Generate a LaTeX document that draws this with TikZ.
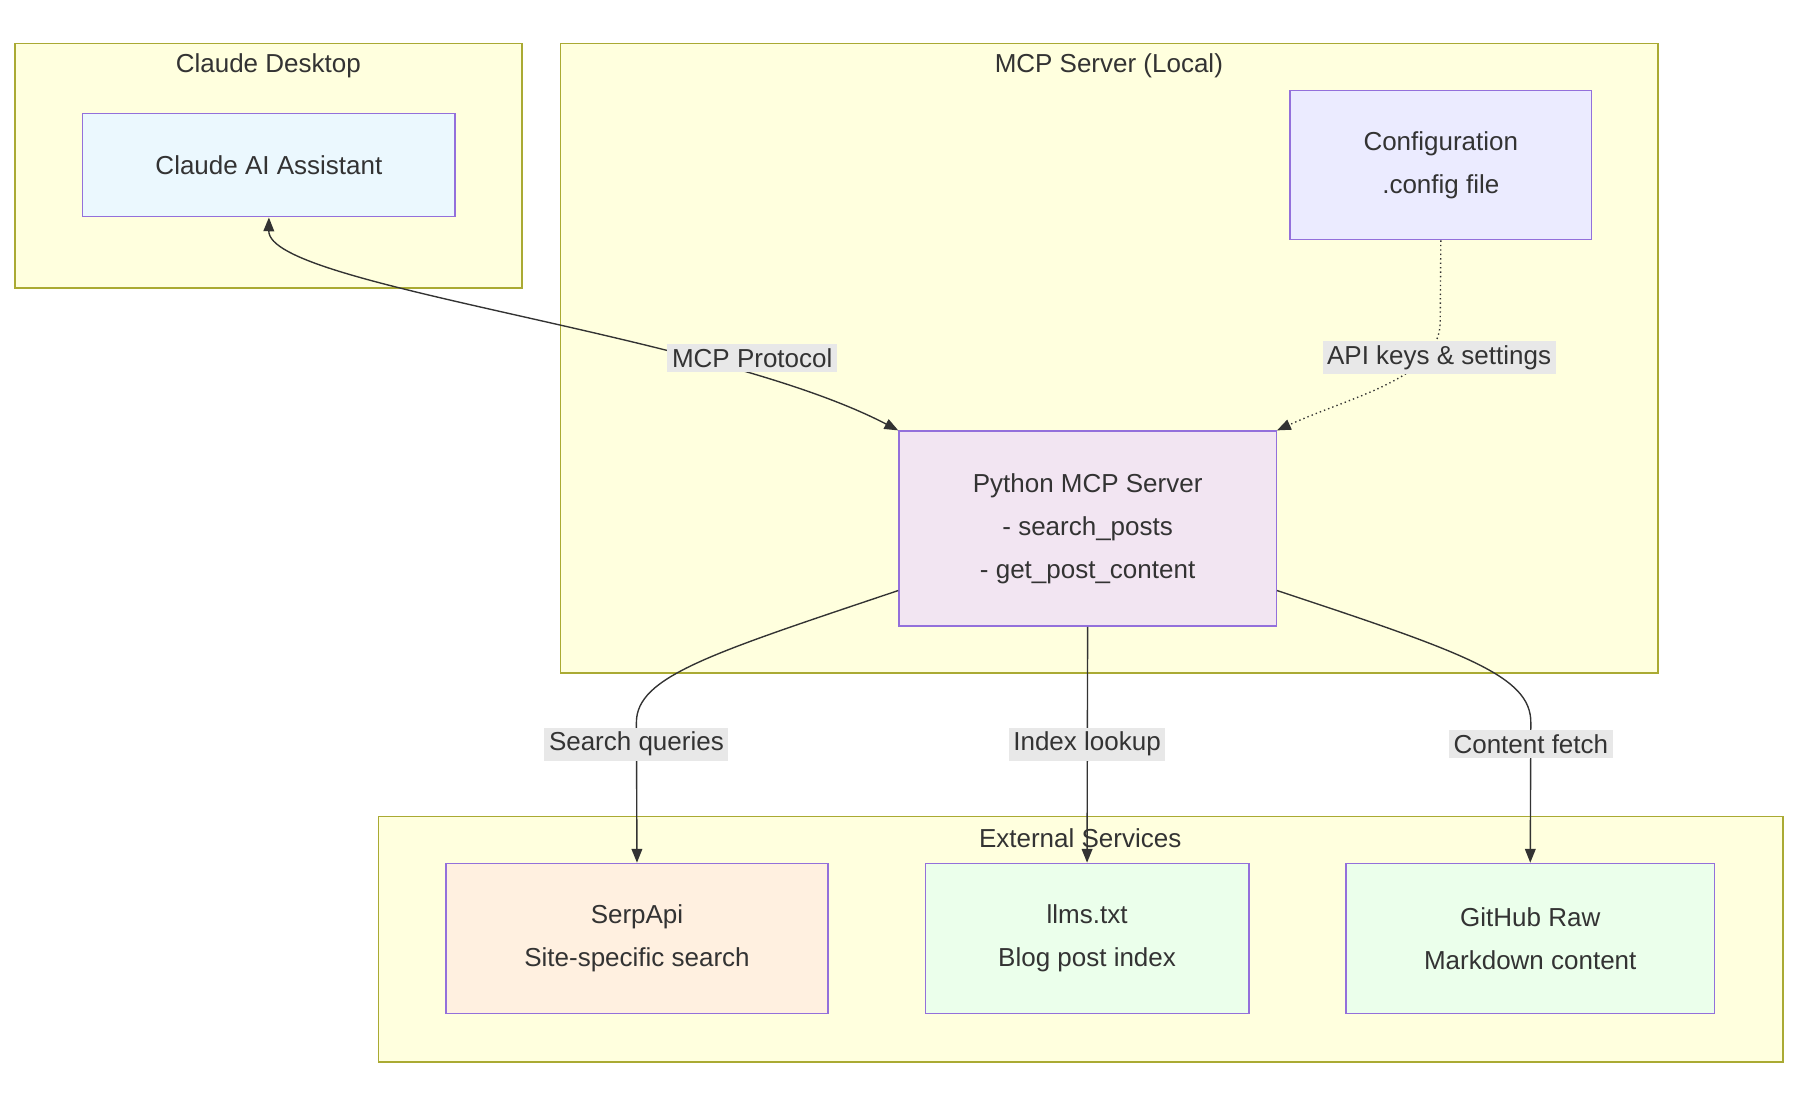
\documentclass[tikz,border=0pt]{standalone}
\usepackage{fontspec}
\setmainfont{Liberation Sans}
\usetikzlibrary{positioning,arrows.meta}
\definecolor{clusterfill}{HTML}{FFFFDE}
\definecolor{clusterline}{HTML}{AAAA33}
\definecolor{nodeline}{HTML}{9370DB}
\definecolor{labelfill}{HTML}{E8E8E8}
\definecolor{edgeline}{HTML}{333333}
\begin{document}
\begin{tikzpicture}[
  x=0.75pt, y=-0.75pt,
  font=\fontsize{17}{20}\selectfont, text=edgeline,
  % Subgraph frames
  cluster/.style={draw=clusterline, fill=clusterfill, line width=1pt},
  title/.style={anchor=center},
  % Service boxes
  box/.style={rectangle, draw=nodeline, line width=1pt, align=center,
    inner sep=0pt},
  % Edge labels on grey patches
  tag/.style={fill=labelfill, inner sep=3pt},
  link/.style={draw=edgeline, line width=0.9pt, -{Triangle[length=9pt, width=7pt]}},
]
  \useasboundingbox (0,0) rectangle (1568,963);

  % === Clusters ===
  \draw[cluster] (13,38) rectangle (455,251);
  \node[title] (desktopT) at (234,57) {Claude Desktop};
  \draw[cluster] (489,38) rectangle (1446,587);
  \node[title] (serverT) at (967,57) {MCP Server (Local)};
  \draw[cluster] (330,712) rectangle (1555,926);
  \node[title] (externalT) at (942,731) {External Services};

  % === Nodes ===
  \node[box, fill=cyan!8, minimum width=243.75pt, minimum height=67.5pt] (claude) at (234.5,144) {Claude AI Assistant};
  \node[box, fill=blue!8, minimum width=197pt, minimum height=97.5pt] (config) at (1256.5,144) {Configuration\\[8pt].config file};
  \node[box, fill=violet!10, minimum width=246.75pt, minimum height=127.5pt] (python) at (948.5,461) {Python MCP Server\\[8pt]- search\_posts\\[8pt]- get\_post\_content};
  \node[box, fill=orange!12, minimum width=249.75pt, minimum height=98.25pt] (serp) at (555.5,818.5) {SerpApi\\[8pt]Site-specific search};
  \node[box, fill=green!8, minimum width=211.5pt, minimum height=98.25pt] (llms) at (948,818.5) {llms.txt\\[8pt]Blog post index};
  \node[box, fill=green!8, minimum width=240.75pt, minimum height=98.25pt] (github) at (1334.5,818.5) {GitHub Raw\\[8pt]Markdown content};

  % === Edges ===
  \draw[link, {Triangle[length=9pt, width=7pt]}-{Triangle[length=9pt, width=7pt]}]
    (claude.south) .. controls (234,250) and (620,290) .. (python.north west);
  \draw[link, dotted] (config.south) -- (1256,280) .. controls (1256,330) and (1180,345) .. (python.north east);
  \draw[link] (python.west |- 0,515) .. controls (620,570) and (555,590) .. (555,630) -- (serp.north);
  \draw[link] (python.south) -- (llms.north);
  \draw[link] (python.east |- 0,515) .. controls (1280,570) and (1335,590) .. (1335,630) -- (github.north);

  % === Edge labels ===
  \node[tag] (protoL) at (656,312) {MCP Protocol};
  \node[tag] (keysL) at (1255,312) {API keys \& settings};
  \node[tag] (searchL) at (555,649) {Search queries};
  \node[tag] (indexL) at (948,649) {Index lookup};
  \node[tag] (fetchL) at (1335,649) {Content fetch};
\end{tikzpicture}
\end{document}
